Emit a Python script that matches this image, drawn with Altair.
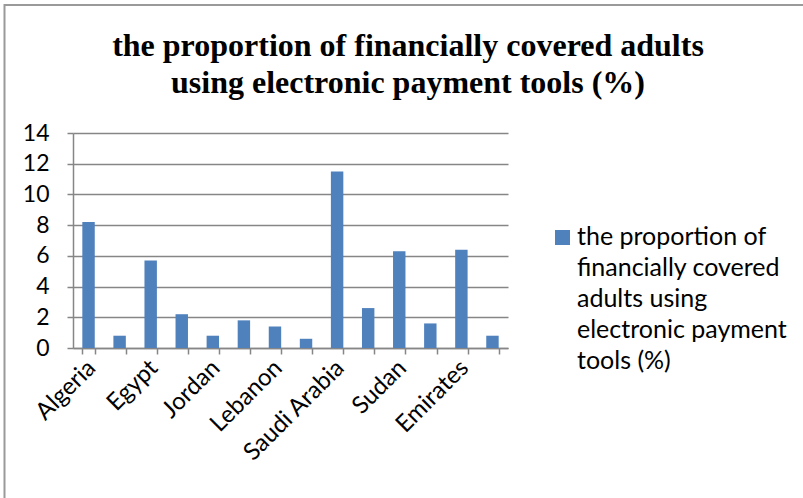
import altair as alt
import pandas as pd

countries = ["Algeria", "Bahrain", "Egypt", "Iraq", "Jordan", "Kuwait", "Lebanon",
             "Morocco", "Saudi Arabia", "Somalia", "Sudan", "Tunisia", "Emirates", "Yemen"]
values = [8.2, 0.8, 5.7, 2.2, 0.8, 1.8, 1.4, 0.6, 11.5, 2.6, 6.3, 1.6, 6.4, 0.8]
shown_labels = ["Algeria", "Egypt", "Jordan", "Lebanon", "Saudi Arabia", "Sudan", "Emirates"]
y_ticks = [0, 2, 4, 6, 8, 10, 12, 14]
title_lines = ["the proportion of financially covered adults",
               "using electronic payment tools (%)"]
legend_lines = ["the proportion of", "financially covered", "adults using",
                "electronic payment", "tools (%)"]

df = pd.DataFrame({"country": countries, "value": values})
one = pd.DataFrame({"k": [0]})

W, H = 435, 215
LEFT, TOP = 73, 133
BLUE = "#4F81BD"
GRAY = "#868686"
FONT = "Lato"

label_list = "[" + ",".join("'" + s + "'" for s in shown_labels) + "]"

bars = alt.Chart(df).mark_bar(color=BLUE).encode(
    x=alt.X("country:N", sort=countries,
            scale=alt.Scale(paddingInner=0.6, paddingOuter=0.3),
            axis=alt.Axis(title=None, labelAngle=315, labelAlign="right",
                          labelBaseline="middle", tickBand="extent",
                          labelExpr=f"indexof({label_list}, datum.value) >= 0 ? datum.value : ''",
                          labelFont=FONT, labelFontSize=24, labelColor="#000000",
                          labelPadding=10, labelOffset=3, tickSize=6, labelOverlap=False,
                          domainColor=GRAY, tickColor=GRAY, domainWidth=1.5, tickWidth=1.5)),
    y=alt.Y("value:Q", scale=alt.Scale(domain=[0, 14], nice=False),
            axis=alt.Axis(title=None, values=y_ticks, grid=True, gridColor=GRAY,
                          gridWidth=1.5, labelFont=FONT, labelFontSize=23,
                          labelColor="#000000", labelPadding=18, tickSize=6,
                          domainColor=GRAY, tickColor=GRAY, domainWidth=1.5, tickWidth=1.5)),
)

title = alt.Chart(one).mark_text(
    font="Liberation Serif", fontSize=32, fontWeight="bold", align="center",
    baseline="alphabetic", lineHeight=37, color="#000000"
).encode(x=alt.value(408 - LEFT), y=alt.value(56 - TOP), text=alt.value(title_lines))

legend_sym = alt.Chart(one).mark_square(color=BLUE, opacity=1, size=225).encode(
    x=alt.value(562.5 - LEFT), y=alt.value(237.5 - TOP))

legend_txt = alt.Chart(one).mark_text(
    font=FONT, fontSize=25, align="left", baseline="alphabetic", lineHeight=31,
    color="#000000"
).encode(x=alt.value(577 - LEFT), y=alt.value(245 - TOP), text=alt.value(legend_lines))

frame = alt.Chart(one).mark_rect(filled=False, stroke="#9a9a9a", strokeWidth=2).encode(
    x=alt.value(4.5 - LEFT), x2=alt.value(900), y=alt.value(5 - TOP), y2=alt.value(500))

chart = alt.layer(bars, title, legend_sym, legend_txt, frame).properties(
    width=W, height=H,
    padding={"left": LEFT, "top": TOP, "right": 803 - LEFT - W, "bottom": 498 - TOP - H},
    autosize=alt.AutoSizeParams(type="none"),
    background="#ffffff",
).configure_view(stroke=None)

chart.save("out.html", embed_options={"renderer": "svg", "actions": False})
